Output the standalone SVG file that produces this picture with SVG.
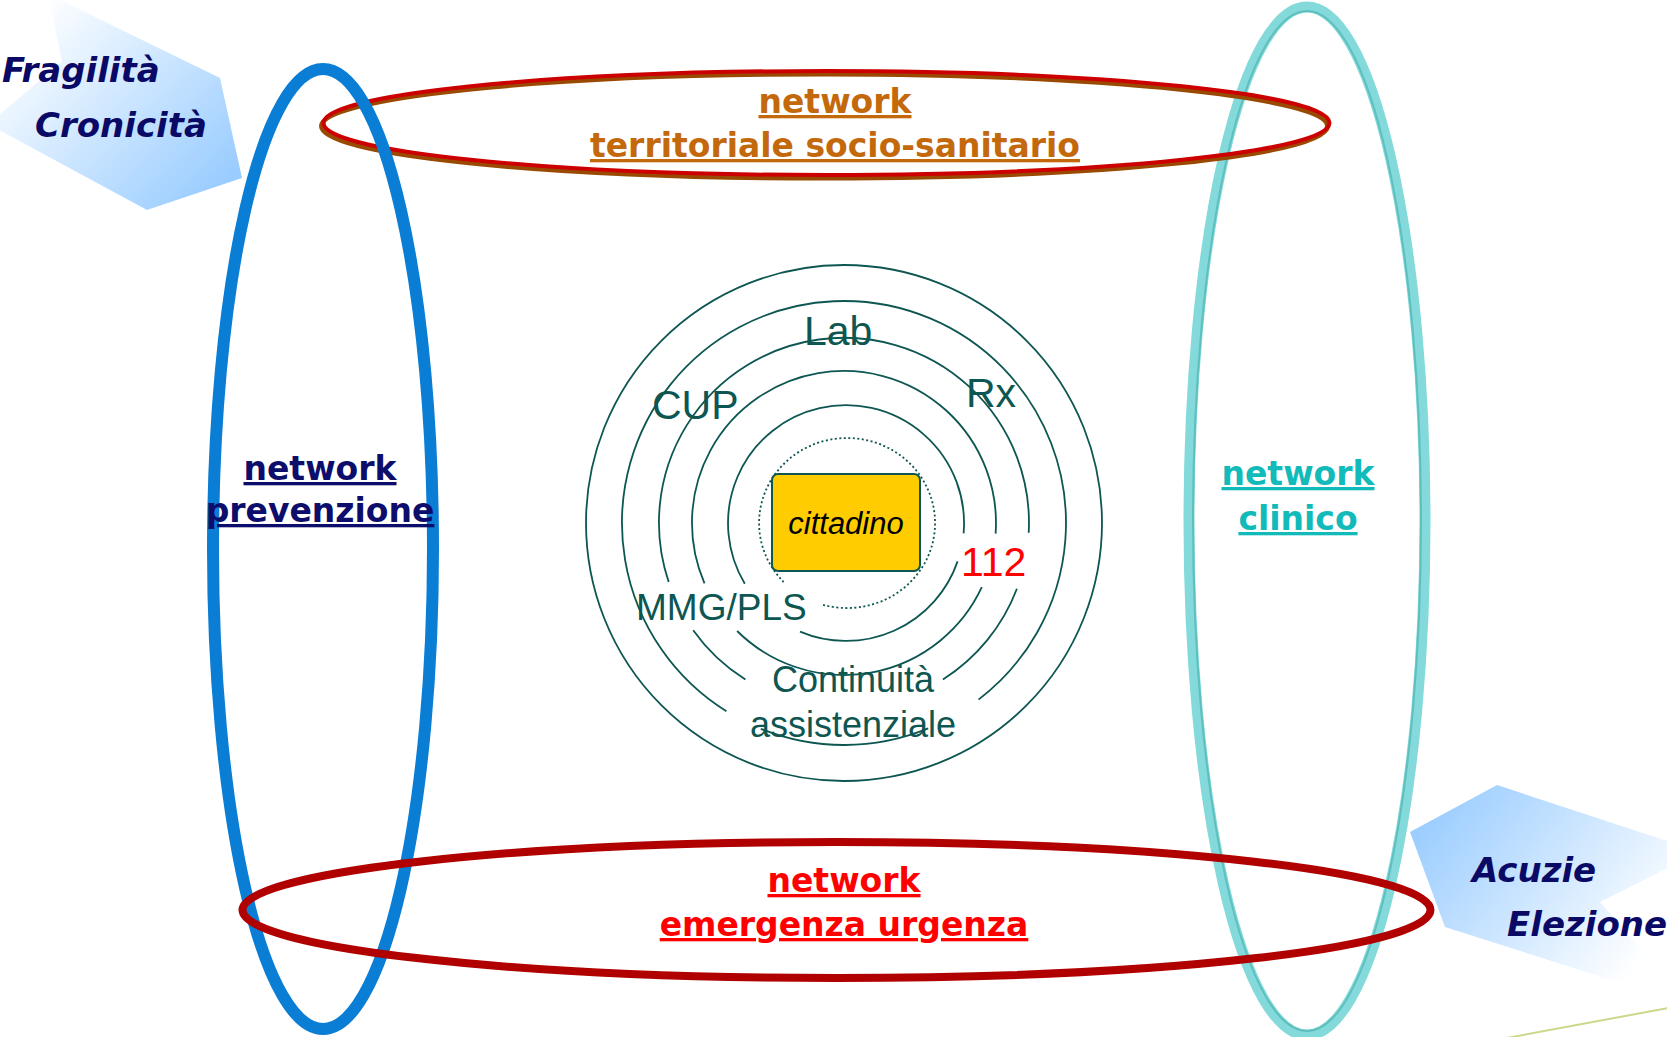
<svg xmlns="http://www.w3.org/2000/svg" width="1667" height="1037" viewBox="0 0 1667 1037">
<defs>
<linearGradient id="gTL" x1="0" y1="0" x2="1" y2="0.8">
<stop offset="0.15" stop-color="#FFFFFF"/>
<stop offset="1" stop-color="#99CCFF"/>
</linearGradient>
<linearGradient id="gBR" x1="0" y1="0.2" x2="1" y2="0.8">
<stop offset="0" stop-color="#99CCFF"/>
<stop offset="0.85" stop-color="#FFFFFF"/>
</linearGradient>
<style>
.net{font-family:"DejaVu Sans",Verdana,sans-serif;font-weight:bold;font-size:33px;text-anchor:middle;text-decoration:underline;}
.tag{font-family:"DejaVu Sans",Verdana,sans-serif;font-weight:bold;font-style:italic;font-size:34px;fill:#0A0A66;}
.ring{fill:none;stroke:#0D5651;stroke-width:1.8;}
.lbl{font-family:"Liberation Sans",Arial,sans-serif;font-size:41px;}
</style>
</defs>
<rect width="1667" height="1037" fill="#FFFFFF"/>

<g id="fragilita">
<polygon points="48,-6 220,78 242,178 147,210 -12,124 62,62" fill="url(#gTL)"/>
<text class="tag" x="2" y="82">Fragilità</text>
<text class="tag" x="35" y="137">Cronicità</text>
</g>

<g id="acuzie">
<polygon points="1497,785 1700,852 1600,902 1690,1005 1445,927 1410,832" fill="url(#gBR)"/>
<text class="tag" x="1472" y="882">Acuzie</text>
<text class="tag" x="1507" y="936">Elezione</text>
</g>

<line x1="1507" y1="1038" x2="1668" y2="1008" stroke="#C9D98A" stroke-width="2"/>

<g id="network-clinico">
<ellipse cx="1307" cy="521" rx="118" ry="514" fill="none" stroke="#84DADA" stroke-width="11"/>
<ellipse cx="1307" cy="521" rx="114" ry="510" fill="none" stroke="#5FBFBF" stroke-width="2"/>
<text class="net" fill="#12BABA" x="1298" y="485">network</text>
<text class="net" fill="#12BABA" x="1298" y="530">clinico</text>
</g>

<g id="network-territoriale">
<ellipse cx="824.5" cy="126" rx="503" ry="52" fill="none" stroke="#9A4A00" stroke-width="5"/>
<ellipse cx="826.5" cy="123" rx="503" ry="52" fill="none" stroke="#CC0000" stroke-width="4"/>
<text class="net" fill="#C4680C" x="835" y="113">network</text>
<text class="net" fill="#C4680C" x="835" y="157">territoriale socio-sanitario</text>
</g>

<g id="network-prevenzione">
<ellipse cx="323" cy="549" rx="110" ry="480" fill="none" stroke="#0A7DD4" stroke-width="12"/>
<text class="net" fill="#0D0D6B" x="320" y="480">network</text>
<text class="net" fill="#0D0D6B" x="320" y="522">prevenzione</text>
</g>

<g id="network-emergenza">
<ellipse cx="836.5" cy="910" rx="594" ry="68" fill="none" stroke="#B00000" stroke-width="8"/>
<text class="net" fill="#FF0000" x="844" y="892">network</text>
<text class="net" fill="#FF0000" x="844" y="936">emergenza urgenza</text>
</g>

<g id="rings">
<circle class="ring" cx="844" cy="523" r="258" stroke-width="2"/>
<path class="ring" d="M928.2,728.4 A222,222 0 0 1 760.8,728.8 M726.4,711.3 A222,222 0 1 1 978.5,699.6"/>
<path class="ring" d="M1016.9,588.7 A185,185 0 0 1 942.9,679.4 M745.4,679.5 A185,185 0 0 1 693.2,630.2 M668.7,582.0 A185,185 0 1 1 1028.7,532.7"/>
<path class="ring" d="M981.8,587.2 A152,152 0 0 1 737.1,631.0 M704.5,583.4 A152,152 0 1 1 995.6,533.6"/>
<path class="ring" d="M957.6,561.4 A118,118 0 0 1 800,631.6 M744.8,583.8 A118,118 0 1 1 963.6,533.3"/>
<path class="ring" d="M783.7,582.0 A88,85 0 1 1 821.3,604.3" stroke-width="2" stroke-dasharray="2 2.5"/>
</g>

<g id="cittadino">
<rect x="772" y="474" width="148" height="97" rx="6" fill="#FFCC00" stroke="#0D5651" stroke-width="2"/>
<text x="846" y="534" font-family="Liberation Sans, Arial, sans-serif" font-style="italic" font-size="31" text-anchor="middle" fill="#000000">cittadino</text>
</g>

<g id="labels" fill="#0D5651">
<text class="lbl" x="804" y="345">Lab</text>
<text class="lbl" x="652" y="419">CUP</text>
<text class="lbl" x="966" y="407">Rx</text>
<text class="lbl" x="636" y="620" style="font-size:37px">MMG/PLS</text>
<text class="lbl" x="961" y="576" style="fill:#FF0000">112</text>
<text class="lbl" x="853" y="692" style="font-size:36px" text-anchor="middle">Continuità</text>
<text class="lbl" x="853" y="737" style="font-size:36px" text-anchor="middle">assistenziale</text>
</g>
</svg>
